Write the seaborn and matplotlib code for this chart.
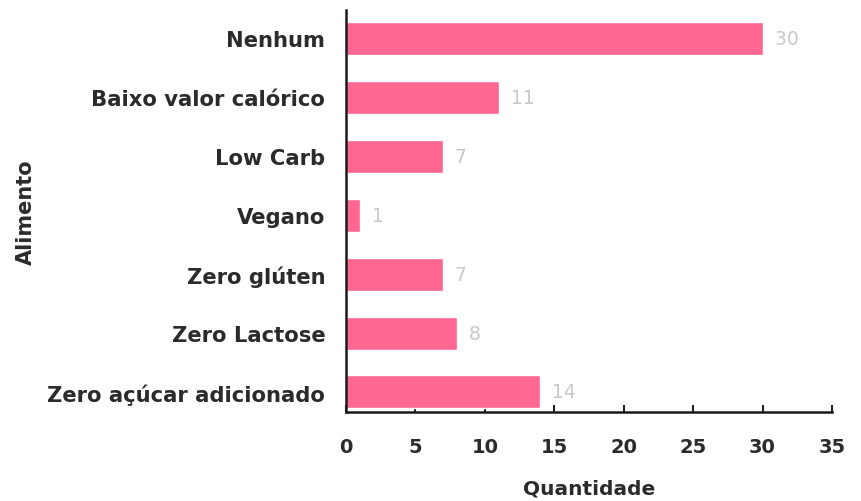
import matplotlib
matplotlib.use("Agg")
import matplotlib.pyplot as plt
import seaborn as sns
import pandas as pd

categorias = ["Nenhum", "Baixo valor calórico", "Low Carb", "Vegano",
              "Zero glúten", "Zero Lactose", "Zero açúcar adicionado"]
quantidades = [30, 11, 7, 1, 7, 8, 14]
x_ticks = [0, 5, 10, 15, 20, 25, 30, 35]

sns.set_style("white")
plt.rcParams["font.family"] = ["DejaVu Sans"]

df = pd.DataFrame({"Alimento": categorias, "Quantidade": quantidades})

fig = plt.figure(figsize=(8.61, 5.02), dpi=100)
ax = fig.add_axes([346 / 861, 1 - 413 / 502, (832 - 346) / 861, (413 - 11) / 502])

bar_color = "#FF6692"
sns.barplot(data=df, x="Quantidade", y="Alimento", order=categorias,
            orient="h", color=bar_color, saturation=1, width=0.56, ax=ax)

text_color = "#2b2b2b"
for i, v in enumerate(quantidades):
    ax.text(v, i, f"  {v}", va="center", ha="left", fontsize=13.5,
            color="#c8c8c8")

ax.set_xlim(0, 35)
ax.set_ylim(6.34, -0.48)
ax.set_xticks(x_ticks)
ax.set_xticklabels([str(t) for t in x_ticks], fontsize=14, fontweight="bold",
                   color=text_color)
for lab in ax.get_yticklabels():
    lab.set_fontsize(15.2)
    lab.set_fontweight("bold")
    lab.set_color(text_color)

ax.tick_params(axis="x", direction="in", length=5, width=1.5, color="#222222",
               pad=18, bottom=True)
ax.tick_params(axis="y", length=0, pad=15)

ax.set_xlabel("Quantidade", fontsize=14.5, fontweight="bold", color=text_color,
              labelpad=16)
ax.set_ylabel("Alimento", fontsize=15, fontweight="bold", color=text_color,
              labelpad=8)

for side in ["top", "right"]:
    ax.spines[side].set_visible(False)
for side in ["left", "bottom"]:
    ax.spines[side].set_linewidth(1.8)
    ax.spines[side].set_color("#1a1a1a")

fig.savefig("out.png", dpi=100)
